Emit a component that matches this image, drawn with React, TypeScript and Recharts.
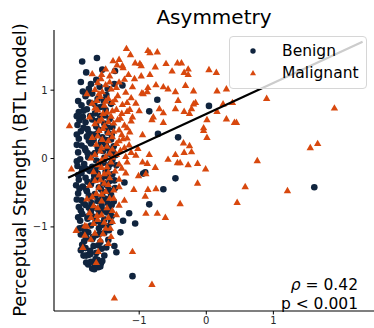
import { ScatterChart, Scatter, XAxis, YAxis, Legend } from 'recharts'

// Benign lesions: [asymmetry score, BTL strength]
const benign: [number, number][] = [
  [-1.85, 1.42], [-1.63, 1.47], [-1.36, 1.28], [-1.84, 0.98], [-1.72, 1.09], [-1.64, 1.15],
  [-1.25, 1.07], [-1.37, 1.09], [-1.7, 0.95], [-0.85, 0.69], [-0.73, 0.86], [0.04, 0.77],
  [-0.42, 0.31], [-0.46, -0.29], [-0.64, -0.45], [-0.85, -0.67], [-0.91, -0.2], [-0.72, 0.36],
  [-0.94, -0.22], [-1.22, -0.35], [-1.15, -0.8], [-1.24, -0.91], [-1.06, -0.95], [-1.28, -1.08],
  [-1.37, -1.28], [-1.34, -1.37], [-1.1, -1.72], [1.61, -0.42], [-1.94, -0.39],
  [-1.76, -1.55], [-1.57, -1.53], [-1.61, -1.59], [-1.79, -1.42], [-1.73, -1.4], [-1.87, -1.34], [-1.67, -1.62],
  [-1.8, 0.91], [-1.62, 0.87], [-1.49, 0.93], [-1.91, 0.84],
  [-1.86, 0.78], [-1.74, 0.82], [-1.55, 0.76], [-1.42, 0.8],
  [-1.9, 0.68], [-1.78, 0.72], [-1.66, 0.66], [-1.5, 0.71],
  [-1.84, 0.61], [-1.7, 0.57], [-1.58, 0.62], [-1.44, 0.58],
  [-1.92, 0.49], [-1.8, 0.53], [-1.64, 0.47], [-1.52, 0.51], [-1.4, 0.46],
  [-1.87, 0.4], [-1.75, 0.37], [-1.6, 0.42], [-1.47, 0.38],
  [-1.9, 0.29], [-1.78, 0.32], [-1.68, 0.27], [-1.55, 0.31], [-1.42, 0.28],
  [-1.86, 0.19], [-1.72, 0.22], [-1.62, 0.17], [-1.5, 0.21], [-1.38, 0.18],
  [-1.91, 0.09], [-1.8, 0.12], [-1.66, 0.08], [-1.54, 0.11], [-1.44, 0.07],
  [-1.88, -0.01], [-1.76, 0.02], [-1.64, -0.03], [-1.52, 0.01], [-1.4, -0.02],
  [-1.92, -0.11], [-1.82, -0.08], [-1.7, -0.12], [-1.58, -0.09], [-1.46, -0.13], [-1.34, -0.1],
  [-1.86, -0.21], [-1.74, -0.18], [-1.62, -0.22], [-1.5, -0.19], [-1.4, -0.23],
  [-1.9, -0.31], [-1.8, -0.28], [-1.68, -0.32], [-1.56, -0.29], [-1.44, -0.33],
  [-1.84, -0.41], [-1.72, -0.38], [-1.6, -0.42], [-1.48, -0.39], [-1.36, -0.43],
  [-1.91, -0.51], [-1.78, -0.48], [-1.66, -0.52], [-1.54, -0.49], [-1.42, -0.53],
  [-1.86, -0.61], [-1.74, -0.58], [-1.62, -0.62], [-1.5, -0.59], [-1.38, -0.63],
  [-1.9, -0.71], [-1.8, -0.68], [-1.68, -0.72], [-1.56, -0.69], [-1.44, -0.73],
  [-1.85, -0.81], [-1.72, -0.78], [-1.6, -0.82], [-1.48, -0.79],
  [-1.88, -0.91], [-1.77, -0.88], [-1.65, -0.92], [-1.52, -0.89], [-1.42, -0.93],
  [-1.84, -1.01], [-1.72, -0.98], [-1.6, -1.02], [-1.48, -0.99],
  [-1.87, -1.11], [-1.76, -1.08], [-1.64, -1.12], [-1.52, -1.09],
  [-1.82, -1.21], [-1.7, -1.18], [-1.58, -1.22], [-1.46, -1.19],
  [-1.8, -1.31], [-1.68, -1.28], [-1.56, -1.32],
  [-1.76, -1.41], [-1.64, -1.38], [-1.52, -1.42],
  [-1.72, -1.51], [-1.62, -1.48],
  [-1.7, -1.61], [-1.58, -1.58],
  [-1.83, 0.45], [-1.69, 0.35], [-1.57, 0.24], [-1.81, 0.15], [-1.71, 0.05], [-1.59, -0.05],
  [-1.85, -0.15], [-1.67, -0.25], [-1.53, -0.36], [-1.79, -0.45], [-1.65, -0.55], [-1.83, -0.65],
  [-1.61, -0.75], [-1.77, -0.85], [-1.57, -0.95], [-1.81, -1.05], [-1.69, -1.15], [-1.61, -1.27],
  [-1.73, -1.35], [-1.47, -0.65], [-1.45, -0.25], [-1.35, 0.05], [-1.47, 0.45], [-1.73, 0.62],
  [-1.59, 0.75], [-1.77, 0.95],
  [-1.89, 0.56], [-1.77, 0.43], [-1.63, 0.55], [-1.51, 0.63], [-1.41, 0.35], [-1.93, 0.35],
  [-1.75, 0.26], [-1.63, 0.36], [-1.49, 0.27], [-1.93, 0.2], [-1.77, 0.08], [-1.61, 0.14],
  [-1.47, 0.15], [-1.39, 0.1], [-1.93, -0.04], [-1.79, -0.15], [-1.65, -0.15], [-1.53, -0.06],
  [-1.43, -0.08], [-1.91, -0.24], [-1.77, -0.34], [-1.61, -0.3], [-1.49, -0.26], [-1.37, -0.32],
  [-1.89, -0.44], [-1.75, -0.54], [-1.57, -0.45], [-1.45, -0.46], [-1.93, -0.6], [-1.71, -0.65],
  [-1.55, -0.56], [-1.41, -0.68], [-1.87, -0.76], [-1.75, -0.72], [-1.53, -0.76], [-1.41, -0.84],
  [-1.91, -0.86], [-1.69, -0.85], [-1.55, -0.97], [-1.45, -1.05], [-1.89, -1.02], [-1.79, -1.16],
  [-1.59, -1.1], [-1.49, -1.3], [-1.85, -1.26], [-1.65, -1.47], [-1.83, -1.42], [-1.55, -1.5],
  [-1.79, -1.52], [-1.66, -1.55], [-1.67, 0.8], [-1.83, 0.7], [-1.53, 0.85], [-1.93, 0.62],
  [-1.75, 1.02], [-1.59, 1.05], [-1.87, 1.12], [-1.79, 1.26], [-1.55, 1.3], [-1.47, 1.02],
]

// Malignant lesions
const malignant: [number, number][] = [
  [-1.19, 1.61], [-1.13, 1.52], [-1.06, 1.4], [-0.87, 1.58], [-0.84, 1.55], [-0.73, 1.56],
  [-1.39, 1.43], [-1.25, 1.36], [-0.97, 1.36], [-1.33, 1.37], [-1.24, 1.33], [-1.16, 1.23],
  [-1.07, 1.17], [-0.97, 1.21], [-0.84, 1.23], [-0.75, 1.08], [-0.87, 1.04], [-0.96, 0.96],
  [-1.78, 0.95], [-1.7, 1.24], [-1.57, 1.17], [-2.04, 0.48], [-1.63, 0.85], [-0.99, 1.39],
  [-0.76, 1.34], [-0.6, 1.39], [-0.43, 1.4], [-0.37, 1.4], [-0.51, 1.28], [-0.33, 1.26],
  [-0.27, 1.31], [-0.27, 1.23], [0.04, 1.3], [0.15, 1.26], [-0.64, 1.05], [-0.57, 1.02],
  [-0.46, 0.98], [-0.31, 1.07], [-0.19, 0.99], [0.16, 0.99], [0.3, 1.02], [-0.42, 0.85],
  [-0.16, 0.82], [-0.33, 0.69], [-0.46, 0.73], [-0.22, 0.73], [-0.25, 0.66], [-0.64, 0.67],
  [-0.7, 0.73], [-0.79, 0.61], [-0.81, 0.57], [-0.64, 0.53], [-0.88, 0.98], [-0.94, 0.95],
  [0.01, 0.57], [0.16, 0.69], [0.3, 0.58], [0.42, 0.53], [0.39, 0.82], [0.25, 0.8],
  [-0.19, 0.8], [-0.04, 0.45], [0.9, 0.88], [1.91, 0.74], [0.45, 0.53], [-0.04, 0.41],
  [0.01, 0.31], [1.55, 0.16], [1.66, 0.22], [0.76, -0.03], [-0.01, -0.15], [0.58, -0.41],
  [1.21, -0.47], [0.46, -0.64], [-0.39, -0.66], [-0.34, 0.23], [-0.25, 0.19], [-0.22, 0.1],
  [-0.33, 0.09], [-0.46, 0.06], [-0.57, -0.01], [-0.43, -0.06], [-0.39, -0.06], [-0.27, -0.09],
  [-0.13, -0.07], [-0.85, 0.06], [-0.88, -0.07], [-0.76, -0.13], [-0.9, -0.22], [-0.13, -0.36],
  [-0.87, -0.45], [-0.75, -0.44], [-0.91, -0.55], [-0.9, -0.8], [-0.73, -0.8], [-0.61, -0.86],
  [-1.01, -0.25], [-1.94, -1.05], [-2.01, -0.15], [-1.37, -2.04], [-0.81, -1.84], [-1.1, -1.36],
  [-1.42, -1.14], [-1.46, -1.24], [-1.61, -1.36], [-1.64, -1.52], [-1.84, -1.3], [-1.81, -1.12],
  [-1.81, -0.98], [-1.43, -1.02], [-1.52, -0.93], [-1.34, -0.82], [-1.72, -0.86], [-1.63, -0.83],
  [-1.62, 1.11], [-1.5, 1.08], [-1.3, 1.12],
  [-1.66, 1.01], [-1.55, 0.98], [-1.42, 1.02], [-1.2, 0.97],
  [-1.58, 0.91], [-1.46, 0.88], [-1.32, 0.92], [-1.12, 0.89],
  [-1.7, 0.81], [-1.52, 0.78], [-1.4, 0.82], [-1.25, 0.79], [-1.05, 0.81],
  [-1.62, 0.71], [-1.48, 0.68], [-1.34, 0.72], [-1.18, 0.69],
  [-1.74, 0.61], [-1.56, 0.58], [-1.42, 0.62], [-1.28, 0.59], [-1.1, 0.61],
  [-1.66, 0.51], [-1.52, 0.48], [-1.38, 0.52], [-1.22, 0.49],
  [-1.6, 0.41], [-1.46, 0.38], [-1.3, 0.42], [-1.14, 0.39],
  [-1.7, 0.31], [-1.55, 0.28], [-1.4, 0.32], [-1.24, 0.29],
  [-1.64, 0.21], [-1.48, 0.18], [-1.34, 0.22],
  [-1.58, 0.11], [-1.44, 0.08], [-1.28, 0.12], [-1.12, 0.09],
  [-1.72, 0.01], [-1.56, -0.02], [-1.4, 0.02],
  [-1.62, -0.09], [-1.48, -0.12], [-1.3, -0.08],
  [-1.68, -0.19], [-1.52, -0.22], [-1.36, -0.18], [-1.2, -0.21],
  [-1.58, -0.31], [-1.44, -0.28],
  [-1.74, -0.39], [-1.6, -0.42], [-1.46, -0.38], [-1.3, -0.41],
  [-1.64, -0.51], [-1.5, -0.48],
  [-1.78, -0.59], [-1.56, -0.62], [-1.38, -0.58], [-1.22, -0.61],
  [-1.68, -0.69], [-1.48, -0.72], [-1.3, -0.68],
  [-1.74, -0.79], [-1.56, -0.82],
  [-1.62, -0.89], [-1.4, -0.92],
  [-1.78, -0.99], [-1.5, -1.02],
  [-1.66, -1.09], [-1.58, -1.19],
  [-1.5, 1.31], [-1.38, 1.28], [-1.44, 1.21], [-1.3, 1.45],
  [-1.15, 0.2], [-1.05, 0.05], [-1.18, -0.05], [-1.08, -0.45], [-1.12, 0.55],
  [-1.0, 0.7], [-0.95, 0.35], [-1.02, 0.15], [-0.95, -0.05],
  [-1.56, 1.23], [-1.44, 1.12], [-1.34, 1.04], [-1.22, 1.16], [-1.1, 1.05], [-1.6, 0.95],
  [-1.5, 0.84], [-1.36, 0.86], [-1.18, 0.82], [-1.66, 0.74], [-1.54, 0.66], [-1.4, 0.7],
  [-1.26, 0.66], [-1.14, 0.72], [-1.6, 0.55], [-1.46, 0.54], [-1.32, 0.57], [-1.18, 0.45],
  [-1.54, 0.44], [-1.38, 0.4], [-1.26, 0.35], [-1.62, 0.33], [-1.46, 0.26], [-1.3, 0.26],
  [-1.18, 0.3], [-1.56, 0.16], [-1.4, 0.14], [-1.22, 0.16], [-1.66, 0.06], [-1.5, 0.03],
  [-1.34, 0.06], [-1.2, 0.03], [-1.56, -0.13], [-1.42, -0.05], [-1.26, -0.14], [-1.6, -0.24],
  [-1.46, -0.2], [-1.3, -0.3], [-1.66, -0.32], [-1.52, -0.36], [-1.38, -0.46], [-1.56, -0.52],
  [-1.44, -0.58], [-1.7, -0.56], [-1.62, -0.72], [-1.4, -0.76], [-1.68, -0.95], [-1.46, -0.86],
  [-1.72, -1.18], [-1.54, -1.1],
]

const xTicks = [-1, 0, 1]
const yTicks = [-1, 0, 1]

// least-squares fit shown in the original
const fitSlope = 0.453
const fitIntercept = 0.653
const fitRange = [-2.06, 2.33]

const rhoValue = '0.42'
const pValue = 'p < 0.001'

const NAVY = '#10243e'
const ORANGE = '#d8480e'
const FONT = '"DejaVu Sans", Verdana, sans-serif'

const toPoints = (pairs: [number, number][]) => pairs.map(([x, y]) => ({ x, y }))
const fitLine = fitRange.map((x) => ({ x, y: fitIntercept + fitSlope * x }))

const fmt = (v: number) => String(v).replace('-', '\u2212')

function Dot(props: any) {
  const { cx, cy } = props
  return <circle cx={cx} cy={cy} r={3.3} fill={NAVY} />
}

function Tri(props: any) {
  const { cx, cy } = props
  return (
    <polygon
      points={`${cx},${cy - 3.8} ${cx + 3.7},${cy + 2.6} ${cx - 3.7},${cy + 2.6}`}
      fill={ORANGE}
    />
  )
}

function LegendBox() {
  const row = (top: number, marker: any, label: string) => (
    <div style={{ position: 'absolute', left: 0, top, height: 20, width: '100%' }}>
      <svg width={40} height={20} style={{ position: 'absolute', left: 8, top: 0 }}>
        {marker}
      </svg>
      <span
        style={{
          position: 'absolute',
          left: 52,
          top: 0,
          lineHeight: '20px',
          fontSize: 15.5,
          fontFamily: FONT,
          color: '#000',
        }}
      >
        {label}
      </span>
    </div>
  )
  return (
    <div
      style={{
        position: 'relative',
        width: 138,
        height: 53,
        boxSizing: 'border-box',
        border: '1px solid #d6d6d6',
        borderRadius: 4,
        background: 'rgba(255,255,255,0.8)',
      }}
    >
      {row(4, <circle cx={15} cy={10} r={2.7} fill={NAVY} />, 'Benign')}
      {row(26, <polygon points="15,7 18,12.2 12,12.2" fill={ORANGE} />, 'Malignant')}
    </div>
  )
}

export default function App() {
  const tick = { fontSize: 10, fill: '#262626', fontFamily: FONT }
  return (
    <div style={{ position: 'absolute', left: 0, top: 0, width: 374, height: 328, background: '#fff' }}>
      <ScatterChart width={374} height={328} margin={{ top: 30, right: 0, bottom: 0, left: 0 }}>
        <XAxis
          type="number"
          dataKey="x"
          domain={[-2.27, 2.5]}
          ticks={xTicks}
          tickFormatter={fmt}
          allowDataOverflow
          height={17}
          tick={tick}
          tickSize={3.5}
          tickMargin={2}
          axisLine={{ stroke: '#000', strokeWidth: 1.1 }}
          tickLine={{ stroke: '#000' }}
        />
        <YAxis
          type="number"
          dataKey="y"
          domain={[-2.23, 1.88]}
          ticks={yTicks}
          tickFormatter={fmt}
          allowDataOverflow
          width={54}
          tick={tick}
          tickSize={3.5}
          tickMargin={3}
          axisLine={{ stroke: '#000', strokeWidth: 1.1 }}
          tickLine={{ stroke: '#000' }}
        />
        <Scatter name="Benign" data={toPoints(benign)} shape={Dot} isAnimationActive={false} />
        <Scatter name="Malignant" data={toPoints(malignant)} shape={Tri} isAnimationActive={false} />
        <Scatter
          name="fit"
          data={fitLine}
          line={{ stroke: '#000', strokeWidth: 2.2 }}
          shape={() => <g />}
          isAnimationActive={false}
          legendType="none"
        />
        <Legend
          layout="horizontal"
          verticalAlign="middle"
          align="center"
          wrapperStyle={{ top: 36, left: 229, width: 138, height: 53 }}
          content={() => <LegendBox />}
        />
      </ScatterChart>
      <svg
        width={374}
        height={328}
        style={{ position: 'absolute', left: 0, top: 0, pointerEvents: 'none' }}
        fontFamily={FONT}
      >
        <text x={214} y={24} textAnchor="middle" fontSize={20} fill="#000">
          Asymmetry
        </text>
        <text transform="translate(26,170) rotate(-90)" textAnchor="middle" fontSize={18} fill="#000">
          Perceptual Strength (BTL model)
        </text>
        <text x={358} y={290} textAnchor="end" fontSize={15.5} fill="#000">
          <tspan fontStyle="italic">ρ</tspan> = {rhoValue}
        </text>
        <text x={358} y={309} textAnchor="end" fontSize={15.5} fill="#000">
          {pValue}
        </text>
      </svg>
    </div>
  )
}
